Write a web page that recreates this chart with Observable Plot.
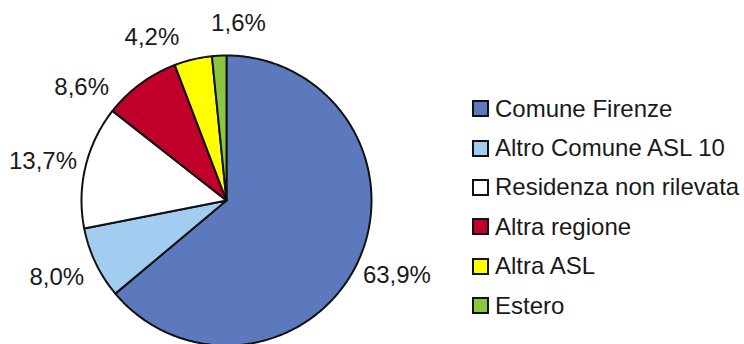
<!DOCTYPE html>
<html>
<head>
<meta charset="utf-8">
<script src="https://cdn.jsdelivr.net/npm/d3@7"></script>
<script src="https://cdn.jsdelivr.net/npm/@observablehq/plot@0.6"></script>
<style>
  html, body { margin: 0; padding: 0; background: #fff; }
  #wrap { position: relative; width: 744px; height: 344px; overflow: hidden; font-family: "Liberation Sans", Arial, sans-serif; }
  #legend { position: absolute; left: 472px; top: 89px; }
  .row { display: flex; align-items: center; height: 39.4px; font-size: 24px; color: #1a1a1a; white-space: nowrap; }
  .sw { width: 17px; height: 17px; box-sizing: border-box; border: 2px solid #111; margin-right: 6px; flex: none; }
</style>
</head>
<body>
<div id="wrap"><div id="chart"></div><div id="legend"></div></div>
<script>
// Provenienza dei pazienti (quote percentuali)
const categories = ["Comune Firenze", "Altro Comune ASL 10", "Residenza non rilevata", "Altra regione", "Altra ASL", "Estero"];
const shares = [63.9, 8.0, 13.7, 8.6, 4.2, 1.6];
const colors = ["#5b79bc", "#a3cdf0", "#ffffff", "#c0002a", "#ffff00", "#8bc63f"];

// Page layout (pixels)
const W = 744, H = 344;
const CX = 226, CY = 200, R = 145;
const LABEL_RX = 1.297;  // label ring, horizontal semi-axis (units of the radius)
const LABEL_RY = 1.225;  // label ring, vertical semi-axis
const MIN_SEP = 27;      // minimum angular gap between labels, degrees

const fmt = v => v.toFixed(1).replace(".", ",") + "%";

// Pie angles, clockwise from 12 o'clock
const pie = d3.pie().sort(null).value(d => d)(shares);

// Slice outlines in units of the radius (y up)
const outline = [];
pie.forEach((p, i) => {
  const cat = categories[i];
  outline.push({cat, x: 0, y: 0});
  const steps = Math.max(2, Math.ceil((p.endAngle - p.startAngle) / (Math.PI / 180)));
  for (let k = 0; k <= steps; k++) {
    const a = p.startAngle + (p.endAngle - p.startAngle) * k / steps;
    outline.push({cat, x: Math.sin(a), y: Math.cos(a)});
  }
  outline.push({cat, x: 0, y: 0});
});

// Labels sit on a ring around the pie; crowded neighbours are spread apart,
// the label of the larger slice giving way more.
const mids = pie.map(p => (p.startAngle + p.endAngle) / 2 * 180 / Math.PI);
for (let it = 0; it < 500; it++) {
  for (let i = 0; i < mids.length; i++) {
    const j = (i + 1) % mids.length;
    const diff = mids[j] + (j === 0 ? 360 : 0) - mids[i];
    if (diff < MIN_SEP) {
      const deficit = MIN_SEP - diff;
      const wi = shares[i] / (shares[i] + shares[j]);
      mids[i] -= deficit * wi;
      mids[j] += deficit * (1 - wi);
    }
  }
}
const labels = shares.map((v, i) => {
  const a = mids[i] * Math.PI / 180;
  return {text: fmt(v), x: Math.sin(a) * LABEL_RX, y: Math.cos(a) * LABEL_RY};
});

const chart = Plot.plot({
  width: W,
  height: H,
  margin: 0,
  x: {domain: [-CX / R, (W - CX) / R], axis: null},
  y: {domain: [-(H - CY) / R, CY / R], axis: null},
  color: {domain: categories, range: colors},
  style: {fontFamily: '"Liberation Sans", Arial, sans-serif', background: "transparent"},
  marks: [
    Plot.line(outline, {x: "x", y: "y", z: "cat", fill: "cat", stroke: "#111", strokeWidth: 2, strokeLinejoin: "miter"}),
    Plot.text(labels, {x: "x", y: "y", text: "text", fontSize: 24, fill: "#1a1a1a", textAnchor: "middle", lineAnchor: "middle"})
  ]
});
document.getElementById("chart").appendChild(chart);

// Legend
const legend = d3.select("#legend");
categories.forEach((c, i) => {
  const row = legend.append("div").attr("class", "row");
  row.append("div").attr("class", "sw").style("background", colors[i]);
  row.append("span").text(c);
});
</script>
</body>
</html>
